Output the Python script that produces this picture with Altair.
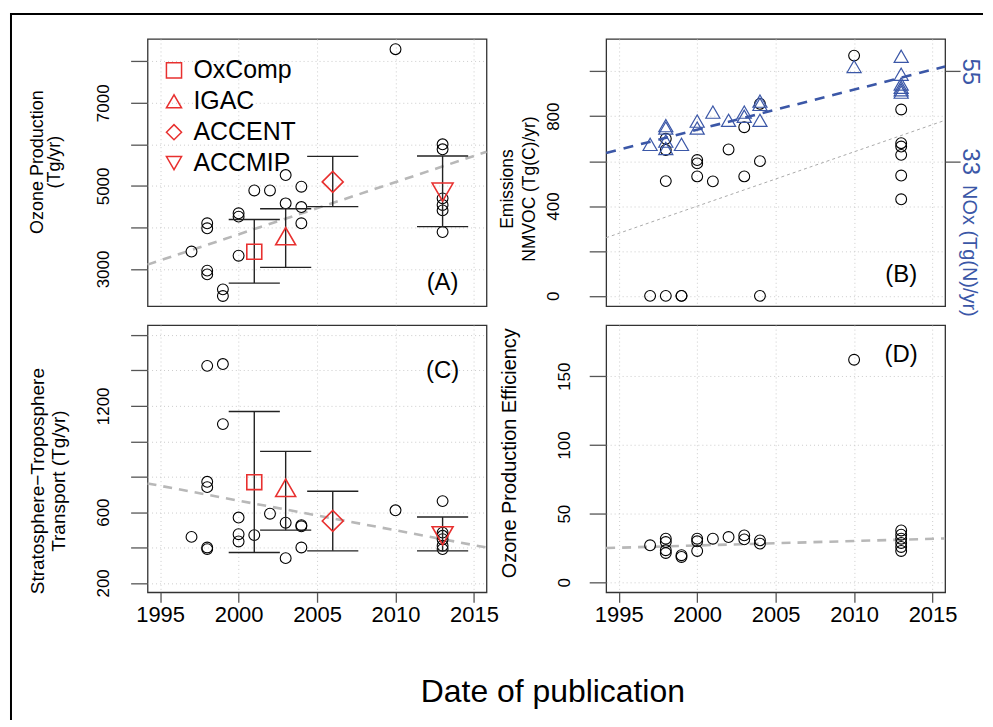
import altair as alt
import pandas as pd

FONT = "Liberation Sans"
RED = "#e8302f"
BLUE = "#3b57a7"
GRID_COLOR = "#cccccc"
BOX_COLOR = "#333333"
TICK_COLOR = "#555555"
TREND_GRAY = "#b8b8b8"

X_DOMAIN = [1994.2, 2015.8]
X_TICKS = [1995, 2000, 2005, 2010, 2015]
TREND_X = [1994.2, 2015.8]
CAP_HALF = 1.63

# assessments (red symbols)
src_names = ["OxComp", "IGAC", "ACCENT", "ACCMIP"]
src_year = [2001, 2003, 2006, 2013]
src_shapes = ["square", "triangle-up", "diamond", "triangle-down"]
src_sizes = [225, 400, 441, 441]

# ---- (A) Ozone production (Tg/yr)
a_year = [1997, 1998, 1998, 1998, 1998, 1999, 1999, 2000, 2000, 2000, 2001, 2002,
          2003, 2003, 2004, 2004, 2004, 2010, 2013, 2013, 2013, 2013, 2013, 2013]
a_value = [3420, 4100, 3980, 2960, 2870, 2510, 2350, 4340, 4260, 3320, 4890, 4890,
           5260, 4580, 4980, 4490, 4100, 8290, 6000, 5880, 4700, 4540, 4410, 3890]
a_trend = [3105, 5820]
a_src_mean = [3415, 3790, 5096, 4850]
a_src_lo = [2660, 3040, 4500, 4020]
a_src_hi = [4190, 4450, 5710, 5720]

# ---- (B) Emissions: NMVOC (Tg(C)/yr) and NOx (Tg(N)/yr)
b_year = [1997, 1998, 1998, 1998, 1998, 1999, 1999, 2000, 2000, 2000, 2001, 2002,
          2003, 2003, 2004, 2004, 2004, 2010, 2013, 2013, 2013, 2013, 2013, 2013]
b_nmvoc = [0, 700, 650, 511, 0, 0, 0, 605, 590, 532, 510, 652,
           751, 532, 855, 600, 0, 1070, 830, 680, 665, 628, 536, 430]
b_trend = [259, 782]
nox_year = [1997, 1998, 1998, 1998, 1998, 1999, 2000, 2000, 2001, 2002, 2003, 2003,
            2004, 2004, 2004, 2010, 2013, 2013, 2013, 2013, 2013, 2013]
nox_value = [37.1, 41.7, 41.1, 37.9, 36.1, 37.1, 42.8, 41.1, 45.0, 43.0, 45.0, 44.0,
             47.7, 46.9, 43.0, 56.2, 58.7, 54.3, 51.9, 51.1, 50.5, 49.9]
nox_trend = [35.0, 56.2]

# ---- (C) Stratosphere-Troposphere transport (Tg/yr)
c_year = [1997, 1998, 1998, 1998, 1998, 1998, 1999, 1999, 2000, 2000, 2000, 2001,
          2002, 2003, 2003, 2004, 2004, 2004, 2010, 2013, 2013, 2013, 2013, 2013, 2013]
c_value = [460, 1426, 771, 741, 400, 391, 1436, 1097, 569, 475, 434, 470,
           591, 540, 340, 526, 520, 400, 610, 662, 484, 466, 447, 410, 391]
c_trend = [762, 400]
c_src_mean = [769, 737, 550, 466]
c_src_lo = [372, 498, 381, 381]
c_src_hi = [1168, 943, 718, 572]

# ---- (D) Ozone production efficiency
d_year = [1997, 1998, 1998, 1998, 1998, 1999, 1999, 2000, 2000, 2000, 2001, 2002,
          2003, 2003, 2004, 2004, 2010, 2013, 2013, 2013, 2013, 2013, 2013]
d_value = [27, 31.8, 29.4, 23.4, 21.4, 19.8, 18.5, 31.8, 29.9, 22.9, 31.8, 33,
           34.2, 31.3, 30.6, 28.2, 162, 37.8, 34.7, 31.8, 28.7, 25.8, 22.9]
d_trend = [25.0, 32.0]

panel_letters = ["(A)", "(B)", "(C)", "(D)"]
letter_year = [2013, 2013, 2013, 2013]
letter_value = [2664, 93, 1397, 165.7]

X_TITLE = "Date of publication"

W, H = 340, 268


def make_x(show=False, title=None):
    common = dict(values=X_TICKS, grid=True, gridDash=[1, 3], gridColor=GRID_COLOR,
                  gridWidth=1, domain=False, format="d")
    if show:
        if title:
            extra = dict(title=title, titleX=406, titleY=100, titleAlign="center",
                         titleBaseline="middle", titleFontSize=32, titleFont=FONT,
                         titleFontWeight="normal", titleColor="black")
        else:
            extra = dict(title=None)
        ax = alt.Axis(ticks=True, tickSize=10, tickColor=TICK_COLOR, tickWidth=1.3,
                      labels=True, labelFontSize=22, labelFont=FONT, labelColor="black",
                      labelPadding=2, labelFlush=False, labelOverlap=False, **common, **extra)
    else:
        ax = alt.Axis(ticks=False, labels=False, title=None, **common)
    sc = alt.Scale(domain=X_DOMAIN, nice=False, zero=False)
    return lambda f: alt.X(f"{f}:Q", scale=sc, axis=ax)


def y_axis(ticks, labels, title, tx, ty, lh, pad, tfs):
    expr = "indexof([%s], datum.value) >= 0 ? datum.label : ''" % ",".join(str(v) for v in labels)
    return alt.Axis(values=ticks, labelExpr=expr, grid=True, gridDash=[1, 3],
                    gridColor=GRID_COLOR, gridWidth=1, domain=False, tickSize=17,
                    tickColor=TICK_COLOR, tickWidth=1.3, labelAngle=270, labelAlign="center",
                    labelBaseline="alphabetic", labelPadding=pad, labelFontSize=17,
                    labelFont=FONT, labelColor="black", labelOverlap=False, labelFlush=False,
                    title=title, titleAngle=270, titleX=tx, titleY=ty, titleAlign="center",
                    titleBaseline="middle", titleLineHeight=lh, titleFontSize=tfs,
                    titleFont=FONT, titleFontWeight="normal", titleColor="black", format="d")


def make_y(domain, axis):
    sc = alt.Scale(domain=domain, nice=False, zero=False)
    return lambda f: alt.Y(f"{f}:Q", scale=sc, axis=axis)


def circles(df, X, Y):
    return alt.Chart(df).mark_point(shape="circle", filled=False, size=118, strokeWidth=1.1,
                                    color="black", opacity=1).encode(x=X("year"), y=Y("value"))


def trend(df, X, Y, color=TREND_GRAY, width=2.6, dash=(9, 7)):
    return alt.Chart(df).mark_line(color=color, strokeWidth=width, strokeDash=list(dash)).encode(
        x=X("year"), y=Y("value"))


def letter(i, X, Y):
    df = pd.DataFrame({"year": [letter_year[i]], "value": [letter_value[i]], "t": [panel_letters[i]]})
    return alt.Chart(df).mark_text(font=FONT, fontSize=24, color="black", align="center",
                                   baseline="middle").encode(x=X("year"), y=Y("value"), text="t:N")


def sources(mean, lo, hi, X, Y, legend):
    df = pd.DataFrame({"source": src_names, "year": src_year, "value": mean, "lo": lo, "hi": hi,
                       "sz": src_sizes})
    bar = alt.Chart(df).mark_rule(color="#222222", strokeWidth=1.4).encode(
        x=X("year"), y=Y("lo"), y2="hi:Q")
    caps = alt.Chart(df).transform_calculate(
        xl=f"datum.year - {CAP_HALF}", xr=f"datum.year + {CAP_HALF}")
    cap_lo = caps.mark_rule(color="#222222", strokeWidth=1.4).encode(
        x=X("xl"), x2="xr:Q", y=Y("lo"))
    cap_hi = caps.mark_rule(color="#222222", strokeWidth=1.4).encode(
        x=X("xl"), x2="xr:Q", y=Y("hi"))
    marks = alt.Chart(df).mark_point(filled=False, strokeWidth=1.6, color=RED, opacity=1).encode(
        x=X("year"), y=Y("value"),
        shape=alt.Shape("source:N", scale=alt.Scale(domain=src_names, range=src_shapes), legend=legend),
        size=alt.Size("sz:Q", scale=None),
    )
    return [bar, cap_lo, cap_hi, marks]


# ----- Panel A
XA = make_x(False)
YA = make_y([2105, 8535], y_axis([3000, 4000, 5000, 6000, 7000, 8000], [3000, 5000, 7000],
                                 ["Ozone Production", "(Tg/yr)"], -110, 123, 17, 22, 18))
legA = alt.Legend(orient="none", legendX=14, legendY=19, title=None, labelFontSize=25,
                  labelFont=FONT, labelColor="black", symbolSize=230, symbolStrokeWidth=1.5,
                  symbolStrokeColor=RED, symbolFillColor="transparent", rowPadding=5,
                  labelOffset=7, padding=0)
frame_df = pd.DataFrame({"k": [0]})
frame_left = alt.Chart(frame_df).mark_rule(color="black", strokeWidth=2).encode(
    x=alt.value(-137), y=alt.value(-26), y2=alt.value(683))
frame_top = alt.Chart(frame_df).mark_rule(color="black", strokeWidth=2).encode(
    x=alt.value(-138), x2=alt.value(838), y=alt.value(-25))
panelA = alt.layer(
    trend(pd.DataFrame({"year": TREND_X, "value": a_trend}), XA, YA),
    circles(pd.DataFrame({"year": a_year, "value": a_value}), XA, YA),
    *sources(a_src_mean, a_src_lo, a_src_hi, XA, YA, legA),
    letter(0, XA, YA),
    frame_left, frame_top,
).properties(width=W, height=H)

# ----- Panel B
XB = make_x(False)
B_DOM = [-46, 1144]
# right axis: 33 Tg(N)/yr <-> 600 Tg(C)/yr, 55 <-> 1000
nox_dom = [33 + (v - 600) * 22 / 400 for v in B_DOM]
YB = make_y(B_DOM, y_axis([0, 200, 400, 600, 800, 1000], [0, 400, 800],
                          ["Emissions", "NMVOC (Tg(C)/yr)"], -99, 150, 22, 31, 17.5))
nox_axis = alt.Axis(orient="right", values=[33, 55], grid=False, domain=False, tickSize=15,
                    tickColor=TICK_COLOR, tickWidth=1.3, labelAngle=90, labelAlign="center",
                    labelBaseline="alphabetic", labelPadding=2, labelFontSize=24, labelFont=FONT,
                    labelColor=BLUE, labelOverlap=False, title="NOx (Tg(N)/yr)", titleAngle=90,
                    titleX=23, titleY=212, titleAlign="center", titleBaseline="middle",
                    titleColor=BLUE, titleFontSize=20, titleFont=FONT, titleFontWeight="normal",
                    format="d")
YN = make_y(nox_dom, nox_axis)
left_B = alt.layer(
    trend(pd.DataFrame({"year": TREND_X, "value": b_trend}), XB, YB, color="#aaaaaa", width=1, dash=(3, 3)),
    circles(pd.DataFrame({"year": b_year, "value": b_nmvoc}), XB, YB),
    letter(1, XB, YB),
)
right_B = alt.layer(
    trend(pd.DataFrame({"year": TREND_X, "value": nox_trend}), XB, YN, color=BLUE, width=2.6, dash=(10, 8)),
    alt.Chart(pd.DataFrame({"year": nox_year, "value": nox_value})).mark_point(
        shape="triangle-up", filled=False, size=200, strokeWidth=1.2, color=BLUE, opacity=1).encode(
        x=XB("year"), y=YN("value")),
)
panelB = alt.layer(left_B, right_B).resolve_scale(y="independent").properties(width=W, height=H)

# ----- Panel C
XC = make_x(True, X_TITLE)
YC = make_y([147, 1656], y_axis([200, 400, 600, 800, 1000, 1200, 1400, 1600], [200, 600, 1200],
                                ["Stratosphere\u2212Troposphere", "Transport (Tg/yr)"], -110, 156, 21, 22, 19))
panelC = alt.layer(
    trend(pd.DataFrame({"year": TREND_X, "value": c_trend}), XC, YC),
    circles(pd.DataFrame({"year": c_year, "value": c_value}), XC, YC),
    *sources(c_src_mean, c_src_lo, c_src_hi, XC, YC, None),
    letter(2, XC, YC),
).properties(width=W, height=H)

# ----- Panel D
XD = make_x(True)
YD = make_y([-7.2, 187.2], y_axis([0, 50, 100, 150], [0, 50, 100, 150],
                                  "Ozone Production Efficiency", -97, 128, 17, 20, 20))
panelD = alt.layer(
    trend(pd.DataFrame({"year": TREND_X, "value": d_trend}), XD, YD),
    circles(pd.DataFrame({"year": d_year, "value": d_value}), XD, YD),
    letter(3, XD, YD),
).properties(width=W, height=H)

chart = alt.concat(
    panelA, panelB, panelC, panelD, columns=2,
    spacing=alt.RowColnumber(row=19, column=120), bounds="flush",
).resolve_scale(shape="independent").resolve_legend(shape="independent").properties(
    padding={"left": 0, "top": 2, "right": 0, "bottom": 0},
).configure_view(stroke=BOX_COLOR, strokeWidth=1.3)

chart.save("out.html", embed_options={"renderer": "svg", "actions": False})
